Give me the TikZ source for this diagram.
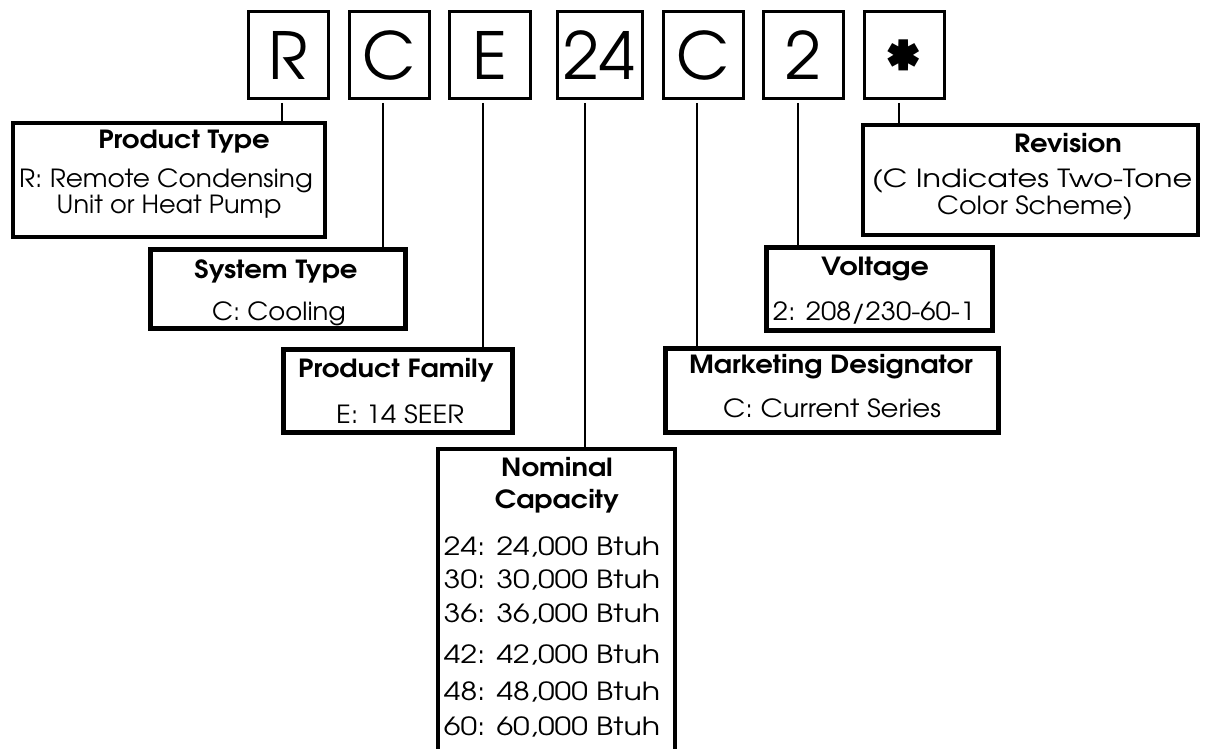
\documentclass[tikz,border=0pt]{standalone}
\usepackage{fontspec}
\setmainfont{TeX Gyre Adventor}[FakeStretch=1.1]
\newfontfamily\bigfont{TeX Gyre Adventor}
\newcommand{\wx}[2]{\scalebox{#1}[1]{#2}}
\begin{document}
\begin{tikzpicture}[x=1pt,y=-1pt,
  topbox/.style={draw, line width=3pt, minimum width=80pt, minimum height=87pt, inner sep=0pt, outer sep=0pt, font=\bigfont\fontsize{65}{65}\selectfont},
  descbox/.style={draw, line width=4pt, inner sep=0pt, outer sep=0pt},
  heavybox/.style={descbox, line width=5pt},
  ttl/.style={anchor=base, inner sep=0pt, font=\bfseries\fontsize{25}{25}\selectfont},
  txt/.style={anchor=base, inner sep=0pt, font=\fontsize{25}{25}\selectfont},
  stem/.style={line width=2.5pt}]
\useasboundingbox (0,0) rectangle (1212,749);
\fill[white] (0,0) rectangle (1212,749);
% top code boxes
\node[topbox] (bR) at (288,55.5) {R};
\node[topbox] (bC) at (389,55.5) {C};
\node[topbox, minimum width=81pt] (bE) at (489.5,55.5) {E};
\node[topbox, minimum width=85pt] (bN) at (599.5,55.5) {24};
\node[topbox] (bM) at (703,55.5) {C};
\node[topbox] (bV) at (803,55.5) {2};
\node[topbox] (bA) at (904,55.5) {\smash{\raisebox{-39pt}{\bfseries\fontsize{74}{74}\selectfont *}}};
% description boxes
\node[descbox, minimum width=312pt, minimum height=114pt] (pt) at (169,180) {};
\node[heavybox, minimum width=255pt, minimum height=79pt] (st) at (277.5,288.5) {};
\node[heavybox, minimum width=229pt, minimum height=83pt] (pf) at (397.5,390.5) {};
\node[descbox, minimum width=237pt, minimum height=304pt] (nc) at (556.5,601) {};
\node[heavybox, minimum width=333pt, minimum height=84pt] (md) at (831.5,390) {};
\node[heavybox, minimum width=226pt, minimum height=83pt] (vo) at (879,288.5) {};
\node[descbox, minimum width=335pt, minimum height=110pt] (rv) at (1030.5,180) {};
% stems
\coordinate (sR) at (282,103);
\coordinate (sC) at (383,103);
\coordinate (sE) at (483,103);
\coordinate (sN) at (585,103);
\coordinate (sM) at (697,103);
\coordinate (sV) at (798,103);
\coordinate (sA) at (899,103);
\draw[stem] (sR) -- (sR |- pt.north);
\draw[stem] (sC) -- (sC |- st.north);
\draw[stem] (sE) -- (sE |- pf.north);
\draw[stem] (sN) -- (sN |- nc.north);
\draw[stem] (sM) -- (sM |- md.north);
\draw[stem] (sV) -- (sV |- vo.north);
\draw[stem] (sA) -- (sA |- rv.north);
% texts
\node[ttl] (t1) at (184,148) {Product Type};
\node[txt] (t1a) at (166,187) {\wx{0.96}{R: Remote Condensing}};
\node[txt] (t1b) at (169,213) {\wx{0.93}{Unit or Heat Pump}};
\node[ttl] (t2) at (276,278) {System Type};
\node[txt] (t2a) at (279,320) {\wx{0.94}{C: Cooling}};
\node[ttl] (t3) at (396,377) {Product Family};
\node[txt] (t3a) at (400,423) {E: 14 SEER};
\node[ttl] (t4) at (557,476) {Nominal};
\node[ttl] (t4a) at (557,508) {Capacity};
\node[txt] (r1) at (552,555) {\wx{1.09}{24: 24,000 Btuh}};
\node[txt] (r2) at (552,588) {\wx{1.09}{30: 30,000 Btuh}};
\node[txt] (r3) at (552,622) {\wx{1.09}{36: 36,000 Btuh}};
\node[txt] (r4) at (552,663) {\wx{1.09}{42: 42,000 Btuh}};
\node[txt] (r5) at (552,700) {\wx{1.09}{48: 48,000 Btuh}};
\node[txt] (r6) at (552,735) {\wx{1.09}{60: 60,000 Btuh}};
\node[ttl] (t5) at (831,373) {Marketing Designator};
\node[txt] (t5a) at (832,417) {C: Current Series};
\node[ttl] (t6) at (875,275) {\wx{1.04}{Voltage}};
\node[txt] (t6a) at (874,320) {2: 208/230-60-1};
\node[ttl] (t7) at (1068,152) {Revision};
\node[txt] (t7a) at (1032,187) {\wx{1.1}{(C Indicates Two-Tone}};
\node[txt] (t7b) at (1035,214) {\wx{0.98}{Color Scheme)}};
\end{tikzpicture}
\end{document}
